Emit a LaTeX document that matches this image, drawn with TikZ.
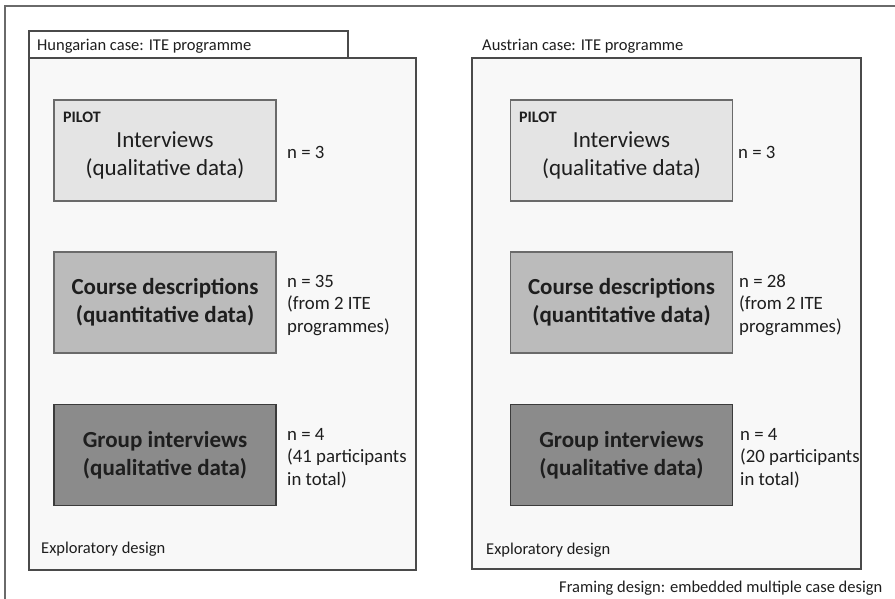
\documentclass[tikz,border=0pt]{standalone}
\usepackage{fontspec}
\setmainfont{Carlito}
\definecolor{pilotfill}{HTML}{E4E4E4}
\definecolor{coursefill}{HTML}{BBBBBB}
\definecolor{groupfill}{HTML}{8B8B8B}
\definecolor{casefill}{HTML}{F8F8F8}
\definecolor{edgegray}{HTML}{4A4A4A}
\definecolor{framegray}{HTML}{6A6A6A}
\definecolor{txt}{HTML}{1E1E1E}
\newcommand\mylines[1]{\begin{tabular}[t]{@{}l@{}}#1\end{tabular}}
\newcommand\mycentered[1]{\begin{tabular}[t]{@{}c@{}}#1\end{tabular}}
\begin{document}
\begin{tikzpicture}[x=1pt,y=-1pt,
  every node/.style={inner sep=0pt, text=txt},
  frameline/.style={draw=framegray, line width=1.8pt},
  casebox/.style={draw=edgegray, line width=1.3pt, fill=casefill},
  tabbox/.style={draw=edgegray, line width=1.3pt, fill=white},
  databox/.style={draw=edgegray, line width=1.2pt, minimum width=222pt, minimum height=101pt, align=center, font=\fontsize{23}{28}\selectfont},
  boldbox/.style={databox, font=\fontsize{23}{28}\selectfont\bfseries},
  smalltext/.style={font=\fontsize{16.5}{20}\selectfont, anchor=base west},
  pilottext/.style={font=\fontsize{16}{20}\selectfont\bfseries, anchor=base west},
  bigtext/.style={font=\fontsize{23}{28}\selectfont, anchor=base},
  nlabel/.style={font=\fontsize{18.8}{22.5}\selectfont, anchor=base west},
]
\useasboundingbox (0,0) rectangle (895,598);
\fill[white] (0,0) rectangle (895,598);
% outer frame (cropped on right and bottom)
\draw[frameline] (5,620) -- (5,6) -- (920,6);

% ---------------- Hungarian case ----------------
\draw[tabbox] (29,31) rectangle (348,58);
\draw[casebox] (29,58) rectangle (416,570);
\node[smalltext] (hutitle) at (37,50.5) {Hungarian case: ITE programme};

\node[databox, fill=pilotfill, draw=framegray] (hupilot) at (165,150.5) {};
\node[pilottext] (hupilotlab) at (63,122) {PILOT};
\node[bigtext] (hupilottxt) at (165,147) {\mycentered{Interviews\\(qualitative data)}};
\node[nlabel] (hun1) at (287,158) {n = 3};

\node[boldbox, fill=coursefill, draw=framegray] (hucourse) at (165,302.5) {Course descriptions\\(quantitative data)};
\node[nlabel] (hun2) at (287,287) {\mylines{n = 35\\(from 2 ITE\\programmes)}};

\node[boldbox, fill=groupfill, draw=edgegray!80!black] (hugroup) at (165,455) {Group interviews\\(qualitative data)};
\node[nlabel] (hun3) at (287,440) {\mylines{n = 4\\(41 participants\\in total)}};

\node[smalltext] (huexpl) at (41,553.5) {Exploratory design};

% ---------------- Austrian case ----------------
\draw[casebox] (472,58) rectangle (861,569);
\node[smalltext] (autitle) at (482,50.5) {Austrian case: ITE programme};

\node[databox, fill=pilotfill, draw=framegray] (aupilot) at (621.5,150.5) {};
\node[pilottext] (aupilotlab) at (519,122) {PILOT};
\node[bigtext] (aupilottxt) at (621.5,147) {\mycentered{Interviews\\(qualitative data)}};
\node[nlabel] (aun1) at (738,158) {n = 3};

\node[boldbox, fill=coursefill, draw=framegray] (aucourse) at (621.5,302.5) {Course descriptions\\(quantitative data)};
\node[nlabel] (aun2) at (739,287) {\mylines{n = 28\\(from 2 ITE\\programmes)}};

\node[boldbox, fill=groupfill, draw=edgegray!80!black] (augroup) at (621.5,455) {Group interviews\\(qualitative data)};
\node[nlabel] (aun3) at (740,440) {\mylines{n = 4\\(20 participants\\in total)}};

\node[smalltext] (auexpl) at (486,554) {Exploratory design};

\node[smalltext] (framing) at (559,592.5) {Framing design: embedded multiple case design};
\end{tikzpicture}
\end{document}
